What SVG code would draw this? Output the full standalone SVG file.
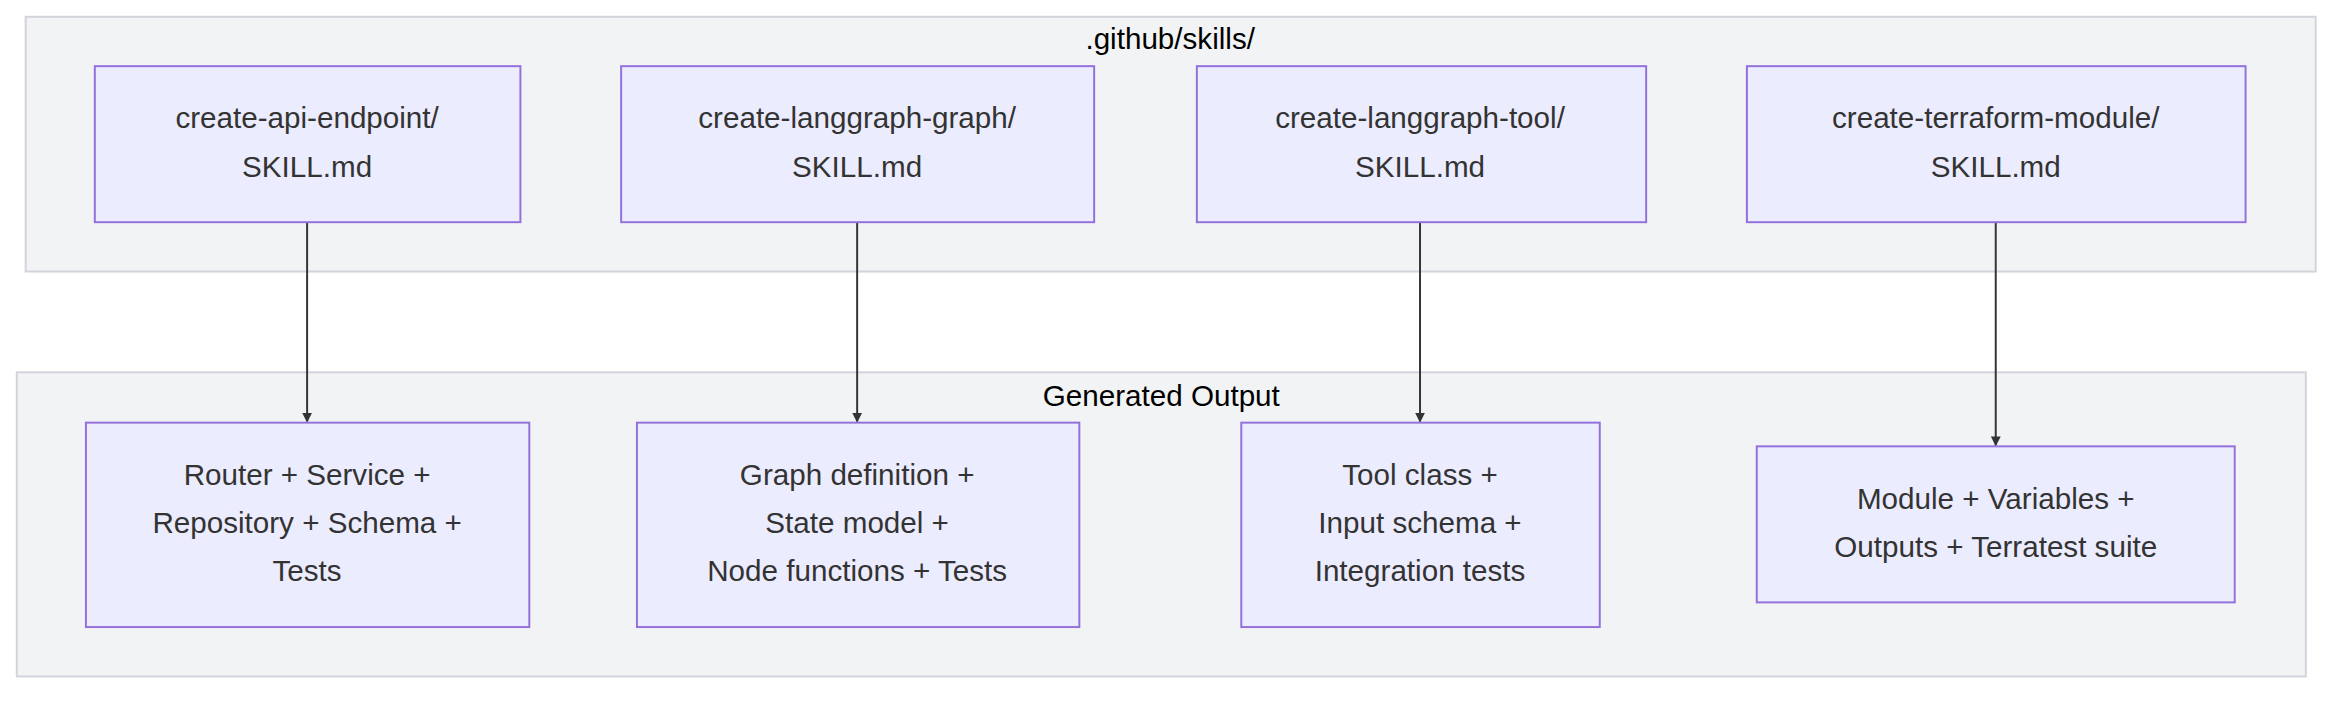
<svg xmlns="http://www.w3.org/2000/svg" width="2352" height="702" viewBox="0 0 2352 702">
<defs>
<style>
.cl{fill:#f2f3f5;stroke:#d3d3dc;stroke-width:2}
.nd{fill:#ececff;stroke:#9370db;stroke-width:2}
text{font-family:"Liberation Sans",Arial,sans-serif;font-size:30px;fill:#333;text-anchor:middle}
.ct{fill:#000}
.e{stroke:#333;stroke-width:2;fill:none;marker-end:url(#ah)}
</style>
<marker id="ah" viewBox="0 0 10 10" refX="9" refY="5" markerWidth="10" markerHeight="10" markerUnits="userSpaceOnUse" orient="auto"><path d="M0,0L10,5L0,10z" fill="#333"/></marker>
</defs>
<rect width="2352" height="702" fill="#fff"/>
<g transform="scale(0.9875)">
<g id="cluster-skills"><rect class="cl" x="26" y="17" width="2319" height="258"/><text class="ct" x="1185" y="50">.github/skills/</text></g>
<g id="cluster-output"><rect class="cl" x="17" y="377" width="2318" height="308"/><text class="ct" x="1176" y="411">Generated Output</text></g>
<g id="connectors">
<path class="e" d="M311,225V427"/>
<path class="e" d="M868,225V427"/>
<path class="e" d="M1438,225V427"/>
<path class="e" d="M2021,225V451"/>
</g>
<g id="s1"><rect class="nd" x="96" y="67" width="431" height="158"/><text x="311" y="130">create-api-endpoint/</text><text x="311" y="179">SKILL.md</text></g>
<g id="s2"><rect class="nd" x="629" y="67" width="479" height="158"/><text x="868" y="130">create-langgraph-graph/</text><text x="868" y="179">SKILL.md</text></g>
<g id="s3"><rect class="nd" x="1212" y="67" width="455" height="158"/><text x="1438" y="130">create-langgraph-tool/</text><text x="1438" y="179">SKILL.md</text></g>
<g id="s4"><rect class="nd" x="1769" y="67" width="505" height="158"/><text x="2021" y="130">create-terraform-module/</text><text x="2021" y="179">SKILL.md</text></g>
<g id="o1"><rect class="nd" x="87" y="428" width="449" height="207"/><text x="311" y="491">Router + Service +</text><text x="311" y="540">Repository + Schema +</text><text x="311" y="588">Tests</text></g>
<g id="o2"><rect class="nd" x="645" y="428" width="448" height="207"/><text x="868" y="491">Graph definition +</text><text x="868" y="540">State model +</text><text x="868" y="588">Node functions + Tests</text></g>
<g id="o3"><rect class="nd" x="1257" y="428" width="363" height="207"/><text x="1438" y="491">Tool class +</text><text x="1438" y="540">Input schema +</text><text x="1438" y="588">Integration tests</text></g>
<g id="o4"><rect class="nd" x="1779" y="452" width="484" height="158"/><text x="2021" y="515">Module + Variables +</text><text x="2021" y="564">Outputs + Terratest suite</text></g>
</g>
</svg>
